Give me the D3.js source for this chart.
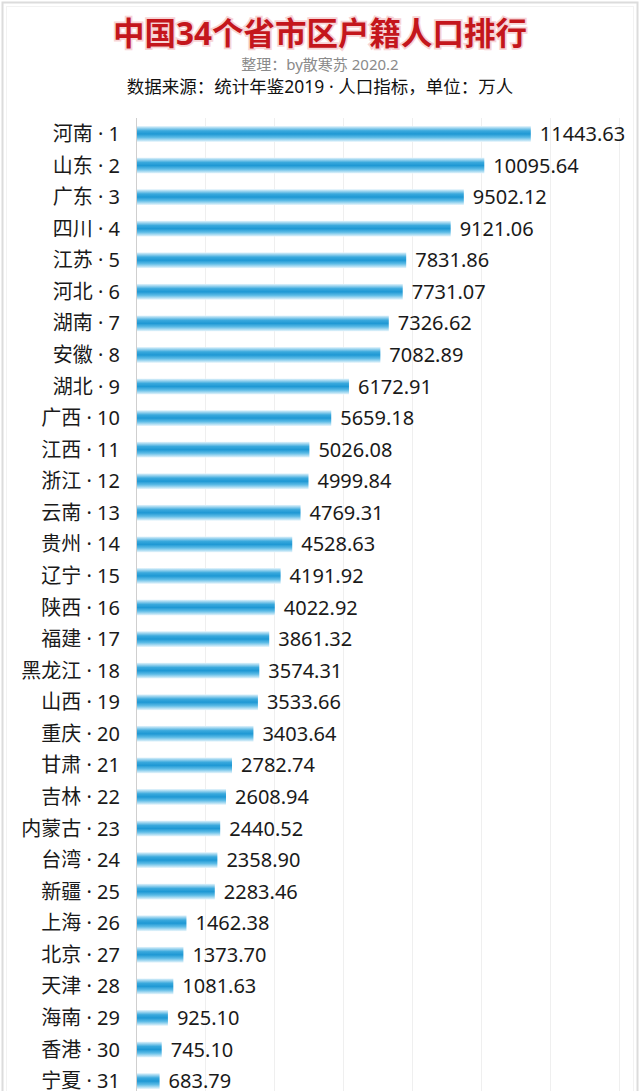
<!DOCTYPE html>
<html>
<head>
<meta charset="utf-8">
<script src="https://cdn.jsdelivr.net/npm/d3@7"></script>
<style>
  html, body { margin: 0; padding: 0; background: #fff; overflow: hidden; }
  text { font-family: "Noto Sans", "Noto Sans CJK SC", sans-serif; }
</style>
</head>
<body>
<div class="box"></div>
<script>
// data (万人), order as ranked
const provinces = ['河南','山东','广东','四川','江苏','河北','湖南','安徽','湖北','广西',
                   '江西','浙江','云南','贵州','辽宁','陕西','福建','黑龙江','山西','重庆',
                   '甘肃','吉林','内蒙古','台湾','新疆','上海','北京','天津','海南','香港','宁夏'];
const population = [11443.63, 10095.64, 9502.12, 9121.06, 7831.86, 7731.07, 7326.62, 7082.89, 6172.91, 5659.18,
                    5026.08, 4999.84, 4769.31, 4528.63, 4191.92, 4022.92, 3861.32, 3574.31, 3533.66, 3403.64,
                    2782.74, 2608.94, 2440.52, 2358.90, 2283.46, 1462.38, 1373.70, 1081.63, 925.10, 745.10, 683.79];
const gridTicks = [0, 2000, 4000, 6000, 8000, 10000, 12000, 14000];

const title = '中国34个省市区户籍人口排行';
const subtitle = '整理：by散寒苏 2020.2';
const source = '数据来源：统计年鉴2019 · 人口指标，单位：万人';

const donnee = provinces.map((nom, i) => ({nom: nom, rang: i + 1, valeur: population[i]}));

const W = 640, H = 1091;
const svg = d3.select('.box')
              .append('svg')
              .attr('width', W)
              .attr('height', H)
              .style('display', 'block');

// dégradé des barres
const defs = svg.append('defs');
const grad = defs.append('linearGradient')
                 .attr('id', 'barGrad')
                 .attr('x1', 0).attr('y1', 0).attr('x2', 0).attr('y2', 1);
grad.append('stop').attr('offset', '0%').attr('stop-color', '#e4f4fc');
grad.append('stop').attr('offset', '30%').attr('stop-color', '#3aa9dd');
grad.append('stop').attr('offset', '50%').attr('stop-color', '#1e98d4');
grad.append('stop').attr('offset', '72%').attr('stop-color', '#5cbbe6');
grad.append('stop').attr('offset', '100%').attr('stop-color', '#eaf6fc');

// cadre de la capture
svg.append('rect')
   .attr('x', 2.5).attr('y', 2.5)
   .attr('width', W - 5).attr('height', H + 20)
   .attr('fill', 'none')
   .attr('stroke', '#dcdcdc')
   .attr('stroke-width', 2);
svg.append('rect')
   .attr('x', 6.5).attr('y', 6.5)
   .attr('width', W - 13).attr('height', H + 20)
   .attr('fill', 'none')
   .attr('stroke', '#f2f2f2')
   .attr('stroke-width', 1);

// titres
svg.append('text')
   .attr('x', 320).attr('y', 45)
   .attr('text-anchor', 'middle')
   .attr('font-size', 31.5)
   .attr('font-weight', 'bold')
   .attr('fill', '#c4161c')
   .attr('stroke', '#f7d4d6')
   .attr('stroke-width', 3.5)
   .attr('paint-order', 'stroke')
   .text(title);

svg.append('text')
   .attr('x', 320).attr('y', 70)
   .attr('text-anchor', 'middle')
   .attr('font-size', 15)
   .attr('fill', '#8a8a8a')
   .text(subtitle);

svg.append('text')
   .attr('x', 320).attr('y', 93)
   .attr('text-anchor', 'middle')
   .attr('font-size', 17.5)
   .attr('fill', '#111')
   .text(source);

// échelles
const x = d3.scaleLinear()
            .domain([0, 14000])
            .range([136, 619]);

const y = d3.scaleBand()
            .domain(donnee.map(d => d.nom))
            .range([118.2, 118.2 + 31.57 * donnee.length])
            .paddingInner(0.5)
            .paddingOuter(0.25);

// grille verticale
const grid = d3.axisBottom(x)
               .tickValues(gridTicks)
               .tickSize(-(H - 118))
               .tickFormat('');
const gGrid = svg.append('g')
                 .attr('transform', `translate(0, ${H})`)
                 .call(grid);
gGrid.select('.domain').remove();
gGrid.selectAll('line').attr('stroke', '#efefef');
gGrid.selectAll('.tick').filter(d => d === 0).select('line').attr('stroke', '#cfcfcf');

// barres
svg.append('g')
   .selectAll('rect')
   .data(donnee)
   .enter()
   .append('rect')
   .attr('x', x(0) + 1)
   .attr('y', d => y(d.nom))
   .attr('width', d => x(d.valeur) - x(0) - 1)
   .attr('height', y.bandwidth())
   .attr('fill', 'url(#barGrad)');

// étiquettes de gauche
svg.append('g')
   .selectAll('text')
   .data(donnee)
   .enter()
   .append('text')
   .attr('x', 120)
   .attr('y', d => y(d.nom) + y.bandwidth() / 2)
   .attr('dy', '0.35em')
   .attr('text-anchor', 'end')
   .attr('font-size', 20)
   .attr('fill', '#1a1a1a')
   .text(d => `${d.nom} · ${d.rang}`);

// valeurs
svg.append('g')
   .selectAll('text')
   .data(donnee)
   .enter()
   .append('text')
   .attr('x', d => x(d.valeur) + 9)
   .attr('y', d => y(d.nom) + y.bandwidth() / 2)
   .attr('dy', '0.35em')
   .attr('font-size', 20)
   .attr('fill', '#1a1a1a')
   .text(d => d.valeur.toFixed(2));
</script>
</body>
</html>
